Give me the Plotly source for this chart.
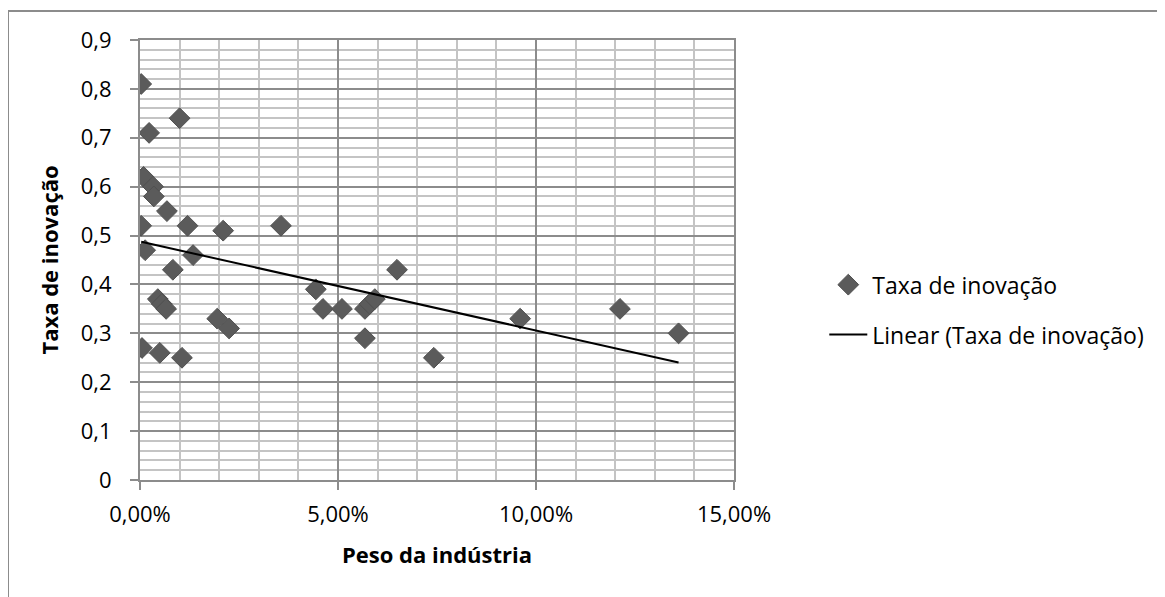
import numpy as np
import plotly.graph_objects as go

# Data: industry weight (fraction) and innovation rate
peso = [0.0003, 0.0023, 0.0100, 0.0009, 0.0033, 0.0035, 0.0068, 0.0003, 0.0120, 0.0210,
        0.0356, 0.0013, 0.0134, 0.0083, 0.0045, 0.0055, 0.0066, 0.0005, 0.0050, 0.0106,
        0.0195, 0.0225, 0.0444, 0.0462, 0.0510, 0.0568, 0.0580, 0.0593, 0.0568, 0.0649,
        0.0742, 0.0960, 0.1212, 0.1360]
taxa = [0.81, 0.71, 0.74, 0.62, 0.60, 0.58, 0.55, 0.52, 0.52, 0.51,
        0.52, 0.47, 0.46, 0.43, 0.37, 0.36, 0.35, 0.27, 0.26, 0.25,
        0.33, 0.31, 0.39, 0.35, 0.35, 0.35, 0.36, 0.37, 0.29, 0.43,
        0.25, 0.33, 0.35, 0.30]

series_name = "Taxa de inovação"
trend_name = "Linear (Taxa de inovação)"
x_title = "Peso da indústria"
y_title = "Taxa de inovação"

slope, intercept = np.polyfit(peso, taxa, 1)
tx = [min(peso), max(peso)]
ty = [intercept + slope * v for v in tx]

FONT = "Open Sans"
GRID_MAJOR = "#8c8c8c"
GRID_MINOR = "#c4c4c4"

# page has an 8px body margin; plot area target: x 140-734, y 40-480 (page px)
L, T, PW, PH = 132, 32, 594, 440
W, H = 1165, 597

fig = go.Figure()
fig.add_trace(go.Scatter(
    x=peso, y=taxa, mode="markers", name=series_name, legendgroup="a",
    marker=dict(symbol="diamond", size=16, color="#5b5b5b",
                line=dict(color="#505050", width=1)),
))
fig.add_trace(go.Scatter(
    x=tx, y=ty, mode="lines", name=trend_name, legendgroup="b",
    line=dict(color="black", width=2),
))

fig.update_layout(
    width=W, height=H,
    margin=dict(l=L, r=W - L - PW, t=T, b=H - T - PH),
    paper_bgcolor="white", plot_bgcolor="white",
    separators=",.",
    font=dict(family=FONT, size=22, color="black"),
    showlegend=True,
    legend=dict(x=1.152, xanchor="left", y=0.387, yanchor="middle",
                font=dict(family=FONT, size=23, color="black"),
                itemwidth=38,
                tracegroupgap=17, bgcolor="rgba(0,0,0,0)"),
    xaxis=dict(
        range=[0, 0.15], dtick=0.05, tick0=0, tickformat=".2%",
        showgrid=True, gridcolor=GRID_MAJOR, gridwidth=2,
        showline=True, linecolor=GRID_MAJOR, linewidth=2, mirror=True,
        ticks="outside", ticklen=8, tickwidth=2, tickcolor=GRID_MAJOR,
        ticklabelstandoff=6,
        zeroline=False,
        minor=dict(dtick=0.01, tick0=0, showgrid=True, gridcolor=GRID_MINOR, gridwidth=2, ticks=""),
        title=dict(text="<b>" + x_title + "</b>", font=dict(family=FONT, size=22), standoff=20),
        tickfont=dict(family=FONT, size=22),
    ),
    yaxis=dict(
        range=[0, 0.9], dtick=0.1, tick0=0,
        showgrid=True, gridcolor=GRID_MAJOR, gridwidth=2,
        showline=True, linecolor=GRID_MAJOR, linewidth=2, mirror=True,
        ticks="outside", ticklen=8, tickwidth=2, tickcolor=GRID_MAJOR,
        ticklabelstandoff=14,
        zeroline=False,
        minor=dict(dtick=0.02, tick0=0, showgrid=True, gridcolor=GRID_MINOR, gridwidth=2, ticks=""),
        title=dict(text="<b>" + y_title + "</b>", font=dict(family=FONT, size=22), standoff=16),
        tickfont=dict(family=FONT, size=22),
    ),
)

# outer chart border (top and left edges visible)
bx0 = (0 - L) / PW
bx1 = (W - L) / PW
by_top = (T + PH - 3) / PH
by_bot = (T + PH - H - 5) / PH
fig.add_shape(type="line", xref="paper", yref="paper",
              x0=bx0, x1=bx1, y0=by_top, y1=by_top,
              line=dict(color="#8c8c8c", width=2))
fig.add_shape(type="line", xref="paper", yref="paper",
              x0=bx0, x1=bx0, y0=by_top, y1=by_bot,
              line=dict(color="#8c8c8c", width=2))

fig.write_html("out.html")
